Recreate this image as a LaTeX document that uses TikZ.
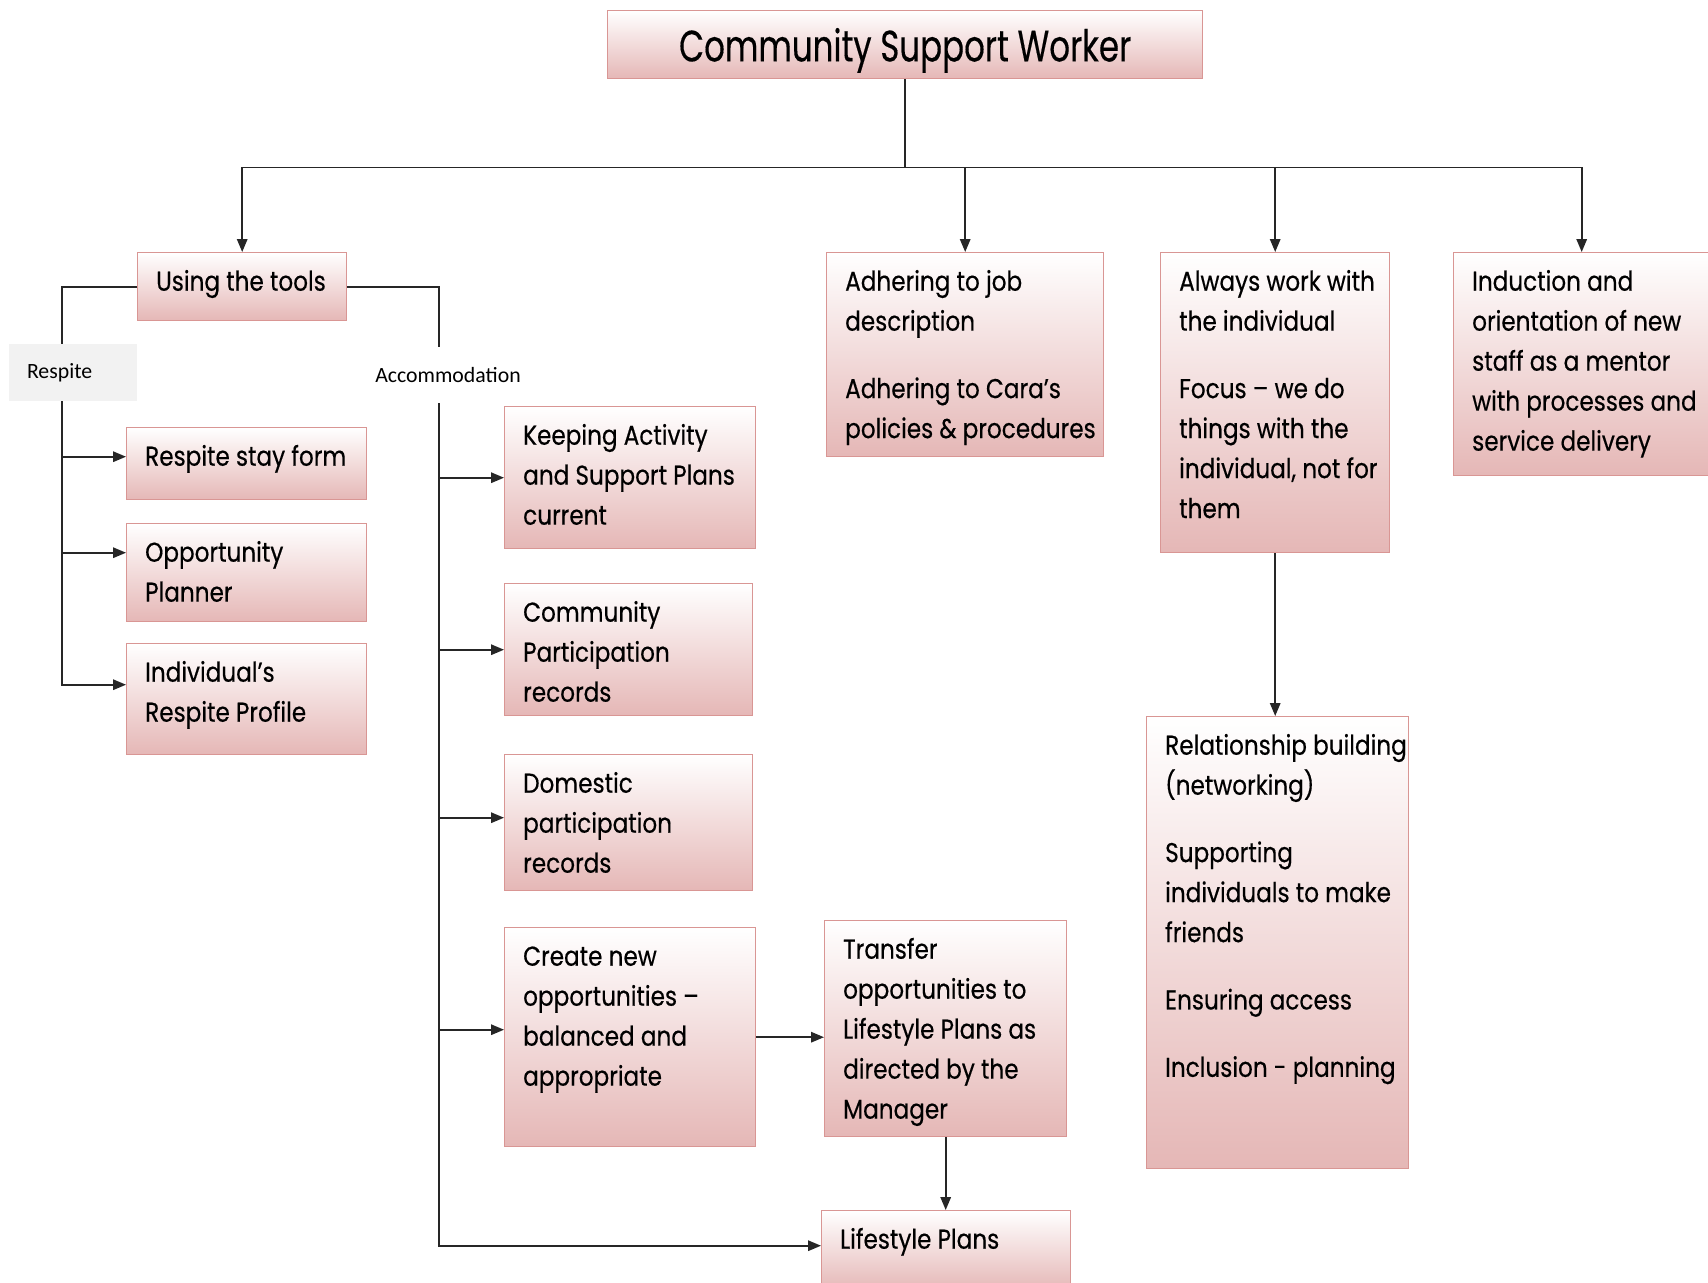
\documentclass[tikz,border=0pt]{standalone}
\usepackage{fontspec}
\setmainfont{Poppins}
\newfontfamily\boxfont[FakeStretch=0.85,FakeBold=0.4]{Poppins}
\newfontfamily\titlefont[FakeStretch=0.74,FakeBold=0.3]{Poppins}
\newfontfamily\labelfont{Carlito}
\usetikzlibrary{arrows.meta}
\definecolor{boxline}{HTML}{D99694}
\definecolor{boxpink}{HTML}{E5B7B6}
\definecolor{labelgray}{HTML}{F2F2F2}
\newlength\unitpx
\setlength\unitpx{0.02cm}
\newcommand{\boxbody}[3]{\parbox[c][#2\unitpx][t]{#1\unitpx}{\raggedright\leftskip=0.37cm\relax\rule{0pt}{0.76cm}#3}}
\newcommand{\gap}{\\[15.6pt]}

\begin{document}
\begin{tikzpicture}
      [x=0.02cm, y=-0.02cm,
       >={Triangle[length=0.26cm,width=0.21cm]},
       box/.style={draw=boxline, line width=0.8pt, top color=white, bottom color=boxpink,
         inner sep=0pt, anchor=north west, font=\boxfont\fontsize{15.5}{22.76}\selectfont},
       link/.style={draw=black!85, line width=0.9pt},
       tag/.style={font=\labelfont\fontsize{12.4}{14}\selectfont, inner sep=0pt}]
      \useasboundingbox (0,0) rectangle (1708,1282);
      \clip (0,0) rectangle (1708,1282);
      % top level
      \node[box, minimum width=11.9cm, minimum height=1.36cm, text depth=0pt,
        font=\titlefont\fontsize{25}{28}\selectfont] (csw) at (607,10) {Community Support Worker};
      \node[box] (tools) at (137,252) {\boxbody{209}{68}{Using the tools}};
      \node[box] (adher) at (826,252) {\boxbody{277}{204}{Adhering to job\\description\gap
        Adhering to Cara’s\\policies \& procedures}};
      \node[box] (always) at (1160,252) {\boxbody{229}{300}{Always work with\\the individual\gap
        Focus – we do\\things with the\\individual, not for\\them}};
      \node[box] (induct) at (1453,252) {\boxbody{256}{223}{Induction and\\orientation of new\\staff as a mentor\\with processes and\\service delivery}};
      % respite side
      \node[tag, fill=labelgray, minimum height=1.14cm, text width=1.84cm, inner xsep=0.36cm,
        align=left] (respite) at (73,372.5) {Respite};
      \node[box] (rstay) at (126,427) {\boxbody{240}{72}{Respite stay form}};
      \node[box] (oppo) at (126,523) {\boxbody{240}{98}{Opportunity\\Planner}};
      \node[box] (profile) at (126,643) {\boxbody{240}{111}{Individual’s\\Respite Profile}};
      % accommodation side
      \node[tag, minimum height=1.12cm] (accom) at (448,375) {Accommodation};
      \node[box] (keep) at (504,406) {\boxbody{251}{142}{Keeping Activity\\and Support Plans\\current}};
      \node[box] (commp) at (504,583) {\boxbody{248}{132}{Community\\Participation\\records}};
      \node[box] (domest) at (504,754) {\boxbody{248}{136}{Domestic\\participation\\records}};
      \node[box] (create) at (504,927) {\boxbody{251}{219}{Create new\\opportunities –\\balanced and\\appropriate}};
      \node[box] (transf) at (824,920) {\boxbody{242}{216}{Transfer\\opportunities to\\Lifestyle Plans as\\directed by the\\Manager}};
      \node[box] (lifes) at (821,1210) {\boxbody{249}{80}{Lifestyle Plans}};
      \node[box] (relat) at (1146,716) {\boxbody{262}{452}{Relationship building\\(networking)\gap
        Supporting\\individuals to make\\friends\gap Ensuring access\gap Inclusion - planning}};
      % connectors
      \coordinate (split) at ([yshift=-1.76cm]csw.south);
      \draw[link] (csw.south) -- (split);
      \draw[link, ->] (split) -| (tools.north);
      \draw[link, ->] (split) -| (adher.north);
      \draw[link, ->] (split) -| (always.north);
      \draw[link, ->] (split) -| (induct.north);
      \draw[link] (tools.west) -| ([xshift=-0.22cm]respite.north);
      \draw[link, ->] ([xshift=-0.22cm]respite.south) |- ([yshift=0.14cm]rstay.west);
      \draw[link, ->] ([xshift=-0.22cm]respite.south) |- ([yshift=0.4cm]oppo.west);
      \draw[link, ->] ([xshift=-0.22cm]respite.south) |- ([yshift=0.29cm]profile.west);
      \draw[link] (tools.east) -| ([xshift=-0.18cm]accom.north);
      \draw[link, ->] ([xshift=-0.18cm]accom.south) |- (keep.west);
      \draw[link, ->] ([xshift=-0.18cm]accom.south) |- (commp.west);
      \draw[link, ->] ([xshift=-0.18cm]accom.south) |- ([yshift=0.1cm]domest.west);
      \draw[link, ->] ([xshift=-0.18cm]accom.south) |- ([yshift=0.15cm]create.west);
      \draw[link, ->] ([xshift=-0.18cm]accom.south) |- ([yshift=0.1cm]lifes.west);
      \draw[link, ->] (create.east) -- (create.east -| transf.west);
      \draw[link, ->] (transf.south) -- (transf.south |- lifes.north);
      \draw[link, ->] (always.south) -- (always.south |- relat.north);
  \end{tikzpicture}
\end{document}
